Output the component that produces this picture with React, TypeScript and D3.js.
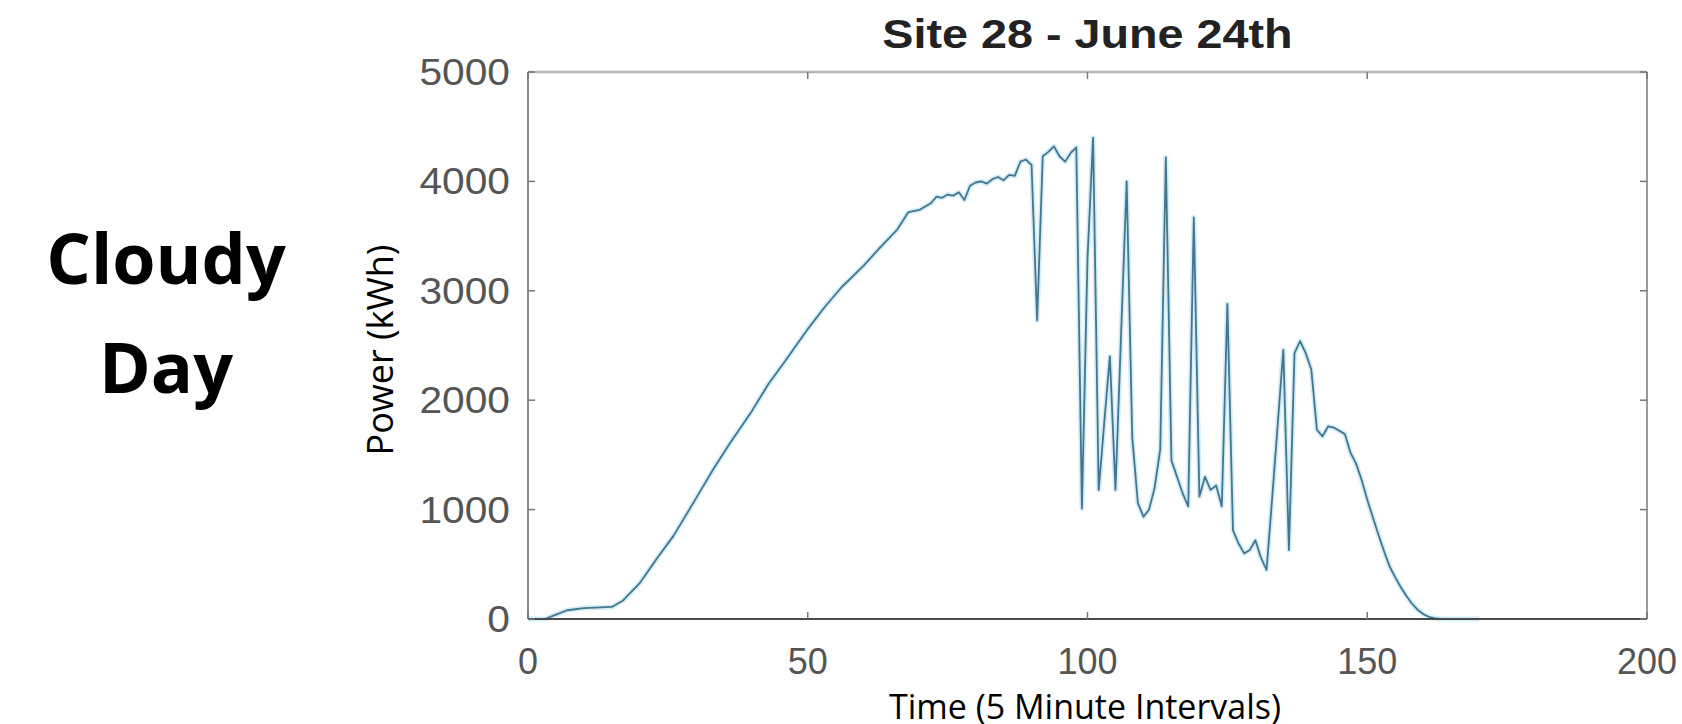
import React, { useRef, useEffect } from "react";
import * as d3 from "d3";

// time index (5 minute steps) and power readings
const timeIdx = [
  0, 3, 5, 7, 10, 15, 17, 20, 23, 26, 30, 33, 36, 40, 43, 46, 50, 53, 56, 60,
  63, 66, 68, 70, 72, 73, 74, 75, 76, 77, 78, 79, 80, 81, 82, 83, 84, 85, 86,
  87, 88, 89, 90, 91, 92, 93, 94, 95, 96, 97, 98, 99, 100, 101, 102, 103, 104,
  105, 106, 107, 108, 109, 110, 111, 112, 113, 114, 115, 116, 117, 118, 119,
  120, 121, 122, 123, 124, 125, 126, 127, 128, 129, 130, 131, 132, 133, 134,
  135, 136, 137, 138, 139, 140, 141, 142, 143, 144, 145, 146, 147, 148, 149,
  150, 151, 152, 153, 154, 155, 156, 157, 158, 159, 160, 161, 162, 163, 170,
];
const powerKw = [
  0, 0, 40, 80, 100, 110, 170, 330, 550, 760, 1100, 1360, 1600, 1900, 2150,
  2360, 2650, 2850, 3030, 3230, 3400, 3560, 3720, 3740, 3800, 3860, 3850, 3880,
  3870, 3900, 3830, 3960, 3990, 4000, 3980, 4020, 4040, 4010, 4060, 4050, 4180,
  4200, 4150, 2730, 4230, 4270, 4320, 4230, 4180, 4260, 4310, 1010, 3300, 4400,
  1180, 1800, 2400, 1180, 2600, 4000, 1660, 1060, 935, 1000, 1200, 1550, 4220,
  1450, 1300, 1150, 1030, 3670, 1120, 1300, 1180, 1220, 1030, 2880, 810, 690,
  600, 630, 720, 560, 450, 1100, 1780, 2460, 630, 2430, 2540, 2430, 2280, 1730,
  1670, 1760, 1750, 1720, 1690, 1520, 1420, 1270, 1090, 930, 770, 620, 480, 380,
  290, 210, 140, 85, 45, 20, 8, 0, 0,
];

const xTicks = [0, 50, 100, 150, 200];
const yTicks = [0, 1000, 2000, 3000, 4000, 5000];
const chartTitle = "Site 28 - June 24th";
const xLabel = "Time (5 Minute Intervals)";
const yLabel = "Power (kWh)";
const sideLabel = ["Cloudy", "Day"];

const App = () => {
  const svgRef = useRef<SVGSVGElement | null>(null);

  useEffect(() => {
    const svg = d3.select(svgRef.current);
    svg.selectAll("*").remove();

    const width = 1682;
    const height = 724;
    const left = 528;
    const right = 1647;
    const top = 72;
    const bottom = 619;
    const tickLen = 7;

    svg.attr("width", width).attr("height", height);

    const x = d3.scaleLinear().domain([0, 200]).range([left, right]);
    const y = d3.scaleLinear().domain([0, 5000]).range([bottom, top]);

    svg.append("rect").attr("width", width).attr("height", height).attr("fill", "#fff");

    // big side caption
    svg
      .append("text")
      .attr("font-family", "'Open Sans', sans-serif")
      .attr("font-weight", 700)
      .attr("font-size", 70)
      .attr("text-anchor", "middle")
      .attr("fill", "#000")
      .selectAll("tspan")
      .data(sideLabel)
      .enter()
      .append("tspan")
      .attr("x", 166)
      .attr("y", (d, i) => 284 + i * 109)
      .text((d) => d);

    // data line (soft halo + core, like the blurred original)
    const pts = timeIdx.map((t, i) => ({ t, v: powerKw[i] }));
    const line = d3
      .line<{ t: number; v: number }>()
      .x((d) => x(d.t))
      .y((d) => y(d.v));

    svg
      .append("path")
      .datum(pts)
      .attr("fill", "none")
      .attr("stroke", "#bfe6f5")
      .attr("stroke-width", 5)
      .attr("stroke-opacity", 0.7)
      .attr("stroke-linejoin", "round")
      .attr("d", line);

    svg
      .append("path")
      .datum(pts)
      .attr("fill", "none")
      .attr("stroke", "#46768f")
      .attr("stroke-width", 1.8)
      .attr("stroke-linejoin", "round")
      .attr("d", line);

    // axes box
    const box = svg.append("g");
    box.append("line").attr("x1", left).attr("x2", right).attr("y1", top).attr("y2", top)
      .attr("stroke", "#b5b5b5").attr("stroke-width", 2.5);
    box.append("line").attr("x1", right).attr("x2", right).attr("y1", top).attr("y2", bottom)
      .attr("stroke", "#9a9a9a").attr("stroke-width", 2);
    box.append("line").attr("x1", left).attr("x2", left).attr("y1", top).attr("y2", bottom)
      .attr("stroke", "#8a8a8a").attr("stroke-width", 2);
    box.append("line").attr("x1", left).attr("x2", right).attr("y1", bottom).attr("y2", bottom)
      .attr("stroke", "#4a4a4a").attr("stroke-width", 2.2);

    // inward ticks on all sides
    xTicks.forEach((t) => {
      box.append("line").attr("x1", x(t)).attr("x2", x(t)).attr("y1", bottom).attr("y2", bottom - tickLen)
        .attr("stroke", "#777").attr("stroke-width", 1.5);
      box.append("line").attr("x1", x(t)).attr("x2", x(t)).attr("y1", top).attr("y2", top + tickLen)
        .attr("stroke", "#777").attr("stroke-width", 1.5);
    });
    yTicks.forEach((t) => {
      box.append("line").attr("x1", left).attr("x2", left + tickLen).attr("y1", y(t)).attr("y2", y(t))
        .attr("stroke", "#777").attr("stroke-width", 1.5);
      box.append("line").attr("x1", right).attr("x2", right - tickLen).attr("y1", y(t)).attr("y2", y(t))
        .attr("stroke", "#777").attr("stroke-width", 1.5);
    });

    // tick labels
    svg
      .append("g")
      .selectAll("text")
      .data(xTicks)
      .enter()
      .append("text")
      .attr("x", (d) => x(d))
      .attr("y", 674)
      .attr("text-anchor", "middle")
      .attr("font-family", "'Liberation Sans', Arial, sans-serif")
      .attr("font-size", 36)
      .attr("fill", "#555")
      .text((d) => d);

    svg
      .append("g")
      .selectAll("text")
      .data(yTicks)
      .enter()
      .append("text")
      .attr("transform", (d) => `translate(510,${y(d) + 13}) scale(1.1,1)`)
      .attr("text-anchor", "end")
      .attr("font-family", "'Liberation Sans', Arial, sans-serif")
      .attr("font-size", 37)
      .attr("fill", "#555")
      .text((d) => d);

    // title, slightly stretched like the source image
    svg
      .append("text")
      .attr("transform", `translate(${(left + right) / 2},48) scale(1.14,1)`)
      .attr("text-anchor", "middle")
      .attr("font-family", "'Liberation Sans', Arial, sans-serif")
      .attr("font-weight", 700)
      .attr("font-size", 41)
      .attr("fill", "#222")
      .text(chartTitle);

    // axis titles
    svg
      .append("text")
      .attr("x", 1085)
      .attr("y", 719)
      .attr("text-anchor", "middle")
      .attr("font-family", "'Open Sans', sans-serif")
      .attr("font-size", 34)
      .attr("fill", "#000")
      .text(xLabel);

    svg
      .append("text")
      .attr("transform", "translate(393,350) rotate(-90)")
      .attr("text-anchor", "middle")
      .attr("font-family", "'Open Sans', sans-serif")
      .attr("font-size", 36)
      .attr("fill", "#000")
      .text(yLabel);
  }, []);

  return (
    <svg
      ref={svgRef}
      style={{ position: "absolute", left: 0, top: 0, display: "block" }}
    />
  );
};

export default App;
